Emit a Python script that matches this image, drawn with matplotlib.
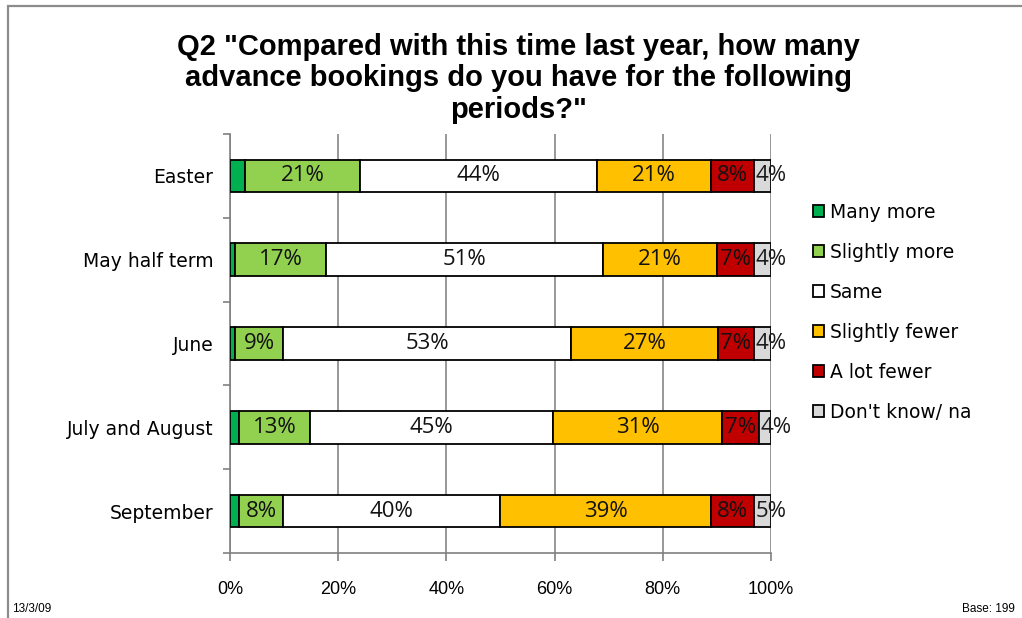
import numpy as np
import matplotlib
matplotlib.use("Agg")
import matplotlib.pyplot as plt
from matplotlib.patches import Rectangle

# --- data (segment widths in %, labels as printed) ---
periods = ["Easter", "May half term", "June", "July and August", "September"]
series = ["Many more", "Slightly more", "Same", "Slightly fewer",
          "A lot fewer", "Don't know/ na"]

many_more = [2.8, 1.0, 1.0, 1.7, 1.7]
slightly_more = [21.2, 16.7, 8.8, 13.1, 8.1]
same = [43.8, 51.2, 53.3, 45.0, 40.2]
slightly_fewer = [21.2, 21.2, 27.1, 31.2, 39.0]
a_lot_fewer = [7.8, 6.7, 6.6, 6.8, 7.8]
dont_know = [3.2, 3.2, 3.2, 2.2, 3.2]

# printed data labels (None = no label shown)
lbl_many_more = [None] * 5
lbl_slightly_more = ["21%", "17%", "9%", "13%", "8%"]
lbl_same = ["44%", "51%", "53%", "45%", "40%"]
lbl_slightly_fewer = ["21%", "21%", "27%", "31%", "39%"]
lbl_a_lot_fewer = ["8%", "7%", "7%", "7%", "8%"]
lbl_dont_know = ["4%", "4%", "4%", "4%", "5%"]

colors = ["#00B050", "#92D050", "#FFFFFF", "#FFC000", "#C00000", "#D9D9D9"]

values = [many_more, slightly_more, same, slightly_fewer, a_lot_fewer, dont_know]
labels = [lbl_many_more, lbl_slightly_more, lbl_same, lbl_slightly_fewer,
          lbl_a_lot_fewer, lbl_dont_know]

fig = plt.figure(figsize=(10.22, 6.18), dpi=100)
ax = fig.add_axes([0.2250, 0.1052, 0.5294, 0.678])

y = np.arange(len(periods))
left = np.zeros(len(periods))
for k, (name, vals, lbls, col) in enumerate(zip(series, values, labels, colors)):
    vals = np.array(vals)
    ax.barh(y, vals, left=left, height=0.39, color=col, edgecolor="black",
            linewidth=1.3, label=name, zorder=3)
    for yi, (l, v, t) in enumerate(zip(left, vals, lbls)):
        if t is None:
            continue
        if k == len(series) - 1:
            # last (thin) segment: Excel pushes the label out to the right
            ax.text(l + 0.3, yi, t, ha="left", va="center", fontsize=16,
                    family="Open Sans", color="#1a1a1a", zorder=4,
                    clip_on=False)
        else:
            ax.text(l + v / 2, yi, t, ha="center", va="center",
                    fontsize=16, family="Open Sans", color="#111111",
                    zorder=4)
    left = left + vals

ax.set_xlim(0, 100)
ax.set_ylim(len(periods) - 0.5, -0.5)
ax.set_xticks(np.arange(0, 101, 20))
ax.set_xticklabels([f"{v}%" for v in range(0, 101, 20)],
                   fontsize=13, family="Liberation Sans")
ax.set_yticks(y)
ax.set_yticklabels(periods, fontsize=13.5, family="DejaVu Sans")
ax.set_yticks(np.arange(-0.5, len(periods)), minor=True)
ax.tick_params(axis="y", which="major", length=0, pad=12)
ax.tick_params(axis="y", which="minor", length=5, color="#808080", width=1.2)
ax.tick_params(axis="x", length=6, color="#808080", width=1.2, pad=14)
ax.xaxis.grid(True, color="#868686", linewidth=1.2, zorder=0)
for s in ("top", "right"):
    ax.spines[s].set_visible(False)
for s in ("left", "bottom"):
    ax.spines[s].set_color("#808080")
    ax.spines[s].set_linewidth(1.2)

leg = fig.legend(loc="upper left", bbox_to_anchor=(0.779, 0.6995),
                 frameon=False, handlelength=0.6, handleheight=0.6,
                 handletextpad=0.3, labelspacing=1.12,
                 prop={"family": "DejaVu Sans", "size": 13.5})

fig.text(0.507, 0.873,
         "Q2 \"Compared with this time last year, how many\n"
         "advance bookings do you have for the following\nperiods?\"",
         ha="center", va="center", fontsize=21, fontweight="bold",
         family="Liberation Sans", linespacing=1.17)

fig.text(0.012, 0.015, "13/3/09", fontsize=8.5, family="Liberation Sans",
         ha="left", va="center")
fig.text(0.993, 0.015, "Base: 199", fontsize=8.5, family="Liberation Sans",
         ha="right", va="center")

# chart frame
fig.patches.append(Rectangle((0.008, -0.05), 1.1, 1.04, transform=fig.transFigure,
                             fill=False, edgecolor="#8c8c8c", linewidth=1.6))

fig.savefig("out.png", dpi=100)
